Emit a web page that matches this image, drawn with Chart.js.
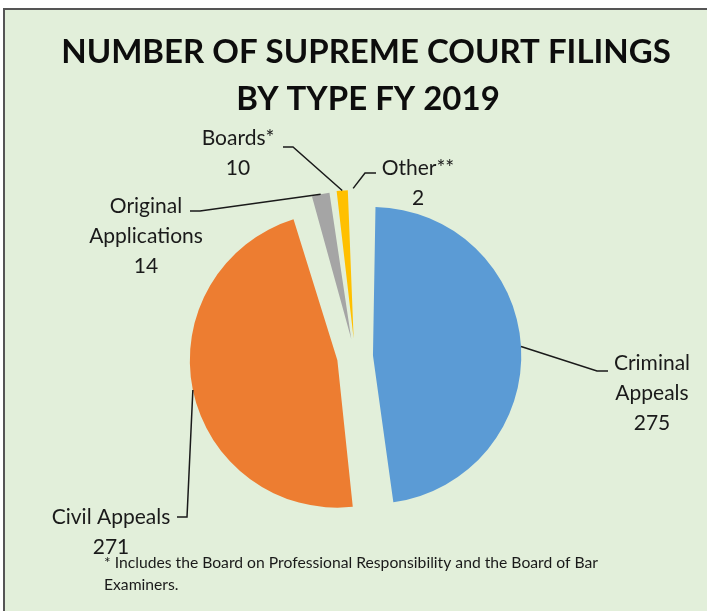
<!DOCTYPE html>
<html><head><meta charset="utf-8">
<script src="https://cdn.jsdelivr.net/npm/chart.js@4.4.1/dist/chart.umd.min.js"></script>
<style>
html,body{margin:0;padding:0;background:#fff;width:707px;height:611px;overflow:hidden}
#frame{position:absolute;left:3px;top:8px;right:-4px;bottom:-4px;background:#e2efda;border-left:2px solid #555;border-top:2px solid #555}
#wrap{position:absolute;left:0;top:0;width:707px;height:611px}
</style></head><body>
<div id="frame"></div>
<div id="wrap"><canvas id="c" width="707" height="611"></canvas></div>
<script>
// ---- data ----
const categories = ["Criminal Appeals", "Civil Appeals", "Original Applications", "Boards*", "Other**"];
const filings = [275, 271, 14, 10, 2];
const labelLines = [["Criminal", "Appeals"], ["Civil Appeals"], ["Original", "Applications"], ["Boards*"], ["Other**"]];
const titleLines = ["NUMBER OF SUPREME COURT FILINGS", "BY TYPE FY 2019"];
const footnoteLines = ["* Includes the Board on Professional Responsibility and the Board of Bar", "Examiners."];

// ---- styles / layout ----
const sliceColors = ["#5b9bd5", "#ed7d31", "#a5a5a5", "#ffc000", "#4472c4"];
const labelLayout = [
  {cx: 652, y0: 370, elbow: [597, 371], end: [608, 371]},
  {cx: 111, y0: 524, elbow: [187, 517], end: [177, 517]},
  {cx: 146, y0: 213, elbow: [200, 211], end: [190, 211]},
  {cx: 238, y0: 145, elbow: [293, 147], end: [283, 147]},
  {cx: 418, y0: 175, elbow: [365, 173], end: [376, 173]}
];
const FONT = "Lato, 'Open Sans', sans-serif";

const labelPlugin = {
  id: 'labels',
  afterDatasetsDraw(chart) {
    const ctx = chart.ctx;
    const meta = chart.getDatasetMeta(0);
    ctx.save();
    // title
    ctx.fillStyle = '#0d0d0d';
    ctx.textAlign = 'center';
    ctx.textBaseline = 'alphabetic';
    ctx.font = "bold 33px " + FONT;
    ctx.fillText(titleLines[0], 366, 63);
    ctx.fillText(titleLines[1], 368, 110);
    // leader lines + labels
    meta.data.forEach((arc, i) => {
      const p = arc.getProps(['x', 'y', 'startAngle', 'endAngle', 'outerRadius', 'circumference'], true);
      const mid = (p.startAngle + p.endAngle) / 2;
      const o4 = (arc.options.offset || 0) / 4;
      const fix = 1 - Math.sin(Math.min(Math.PI, p.circumference || 0));
      const reach = o4 + p.outerRadius + o4 * fix; // translation + enlarged radius, as ArcElement draws it
      const px = p.x + Math.cos(mid) * reach;
      const py = p.y + Math.sin(mid) * reach;
      const L = labelLayout[i];
      ctx.strokeStyle = '#1a1a1a';
      ctx.lineWidth = 1.5;
      ctx.beginPath();
      ctx.moveTo(px, py);
      ctx.lineTo(L.elbow[0], L.elbow[1]);
      ctx.lineTo(L.end[0], L.end[1]);
      ctx.stroke();
      ctx.fillStyle = '#1a1a1a';
      ctx.font = "21px " + FONT;
      ctx.textAlign = 'center';
      const lines = labelLines[i].concat([String(filings[i])]);
      lines.forEach((t, k) => ctx.fillText(t, L.cx, L.y0 + k * 30));
    });
    // footnote
    ctx.font = "15.7px " + FONT;
    ctx.textAlign = 'left';
    ctx.fillStyle = '#1a1a1a';
    footnoteLines.forEach((t, k) => ctx.fillText(t, 104, 568 + k * 22));
    ctx.restore();
  }
};

new Chart(document.getElementById('c'), {
  type: 'pie',
  data: {
    labels: categories,
    datasets: [{
      data: filings,
      backgroundColor: sliceColors,
      borderWidth: 0,
      offset: 72,
      radius: 132.5
    }]
  },
  options: {
    responsive: false,
    animation: false,
    layout: {padding: {left: 103, right: 100, top: 201, bottom: 99}},
    plugins: {legend: {display: false}, tooltip: {enabled: false}, title: {display: false}}
  },
  plugins: [labelPlugin]
});
</script>
</body></html>
